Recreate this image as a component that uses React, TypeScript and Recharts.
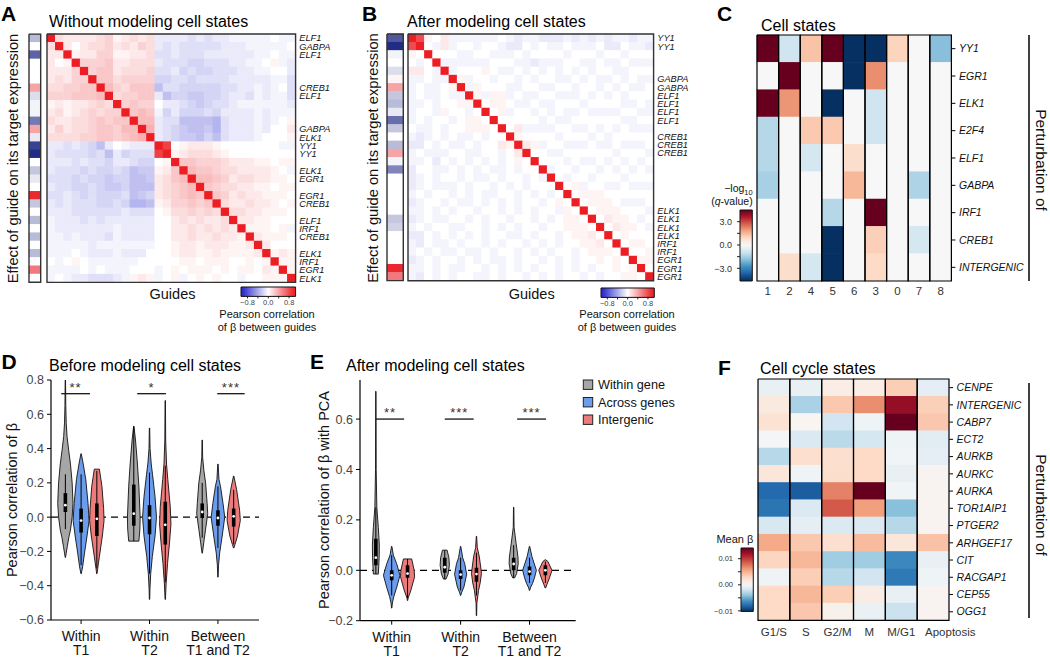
import React from 'react';
import {
  ScatterChart,
  Scatter,
  XAxis,
  YAxis,
  ReferenceLine,
} from 'recharts';

const FONT = '"Liberation Sans", Arial, Helvetica, sans-serif';

// guide x guide correlation of beta, lower triangle, one char per cell
// '.' = 0, 'A'..'T' = +0.05..+1.00, 'a'..'t' = -0.05..-1.00, '|' only separates blocks
const corrBefore = [
  '',
  'C',
  'BB',
  'B.A',
  'BBBD',
  'BCBDD',
  'CCDDEE',
  'DDDEEEF',
  'ABABBCDC',
  'BCABCDCDD',
  'CBBCCDEDEE',
  'BDBCCDEEDFF',
  'CCCCDDEEDEFG',
  'bbcbcdfb.abbb',
  'bccccdcfbdccc|Q',
  'bbbcbccdbbcdd|.A',
  'bcccdcddcdfee|AB|E',
  'cccdcddeddffe|BC|EF',
  'bccddcdeedfff|BC|DEF',
  'ccbcdcdddcfed|BC|DEFE',
  'bcbcccddcdggf|AB|DDEDE',
  'bbbccccccbccc|.A|CCDCDC',
  'abbbcbcbbbbbb|..|BCBCBBC',
  'abbbbbbbabbbb|..|BBCBCBCB',
  'aababbbcabbbb|..|BBCBBCBBA',
  'aaaaabaaaaaaa|..|ABBABBBAAB',
  'aaa.abbbabbb.|..|ABBAABAAAAB',
  '.a.A.aaaaaa..|..|.AA.AAA..A.A',
  'aaaa.a.aaa...|a.|A.AAA.A.AA.BA',
  'a.abbcccbaABA|a.|Aa.A.A..a..AAA',
];
// effect of each guide on its own target (left strip)
const stripBefore = 'f.n...Hcaal|Hbqs|.eb.Se.f.f.f.L.';
const labelRowsBefore = [0, 1, 2, 6, 7, 11, 12, 13, 14, 16, 17, 19, 20, 22, 23, 24, 26, 27, 28, 29];
const labelNamesBefore = ['ELF1', 'GABPA', 'ELF1', 'CREB1', 'ELF1', 'GABPA', 'ELK1', 'YY1', 'YY1', 'ELK1',
  'EGR1', 'EGR1', 'CREB1', 'ELF1', 'IRF1', 'CREB1', 'ELK1', 'IRF1', 'EGR1', 'ELK1'];

const corrAfter = [
  '',
  'P',
  'A.',
  '.a.',
  'BB.a',
  'aa.aa',
  'a.aa.A',
  'a.aa.aa',
  'aa.a..AA',
  'a..aA..a.',
  'a.a..a.AA.',
  '.aa.a..AAA.',
  'aba.a.aa.a..',
  'bb.a.aa.a..BA',
  'a.aaa..aa..a.B',
  'aa.b.a.a.a.a.A.',
  'b..aa.a.a.aa.a..',
  'ba.a..a.aa.a..a.a',
  'ba.aaa.a..a.a.a...',
  'a.a..a.a.aa..a.a.a.',
  'ba..a.aa.a.a.a..a.A.',
  'aa.a.a..a..a.a.a..aA.',
  'ba.aa..a.a..a..a.a.AA.',
  'a.a..aa..a.a.a..a..AAA.',
  'bb.a.a.a.a..aa.a..a.AAB.',
  'ab.aa.a..a.a..a.a.a..AAB.',
  'a.a.aa.aa.a..a.a.a..a.AAA.',
  'ba.a..a.a.aa.a..a.a.a..A.A.',
  'aa.a.aa..a.a.a.a..a.a.a..A.A',
  'ab.a.a..aa.a..a.a.a..a.a..AA.',
];
const stripAfter = 'osa.cAHefbm|e.fHak|.....|ed|....|SL';
const labelRowsAfter = [0, 1, 5, 6, 7, 8, 9, 10, 12, 13, 14, 21, 22, 23, 24, 25, 26, 27, 28, 29];
const labelNamesAfter = ['YY1', 'YY1', 'GABPA', 'GABPA', 'ELF1', 'ELF1', 'ELF1', 'ELF1', 'CREB1', 'CREB1',
  'CREB1', 'ELK1', 'ELK1', 'ELK1', 'ELK1', 'IRF1', 'IRF1', 'EGR1', 'EGR1', 'EGR1'];

// C: signed -log10(q) per cell state
const stateCols = ['1', '2', '4', '5', '6', '3', '0', '7', '8'];
const stateGenes = ['YY1', 'EGR1', 'ELK1', 'E2F4', 'ELF1', 'GABPA', 'IRF1', 'CREB1', 'INTERGENIC'];
const stateQ = [
  [5, -0.9, 1.3, 5, -5, -5, 1.0, 0, -1.9],
  [0, 5, 0, 0, -5, 2.1, 0, 0, 0],
  [5, 2.0, 0, -5, 0, -0.9, 0, 0, 0],
  [-1.3, 0, 1.2, 1.2, 0, -0.9, 0, 0, 0],
  [-1.3, 0, -0.8, 0, 0.8, 0, 0, 0, 0],
  [-1.5, 0, 0, 0, 1.5, 0, 0, -1.4, 0],
  [0, 0, 0, -1.3, 0, 5, 0, 0, 0],
  [0, 0, 0, -5, 0, 1.1, 0, -0.8, 0],
  [0, 0.8, -0.8, -5, 0, 0.9, 0, 0, 0],
];

// D / E violins
const groupLabels = [['Within', 'T1'], ['Within', 'T2'], ['Between', 'T1 and T2']];
const kindNames = ['Within gene', 'Across genes', 'Intergenic'];
// outline from top to bottom: [correlation, relative half width]
const beforeShapes = [
  [[0.8, 0.02], [0.65, 0.05], [0.55, 0.1], [0.47, 0.2], [0.39, 0.39], [0.31, 0.6], [0.2, 0.8], [0.08, 0.9], [0, 0.8], [-0.075, 0.6], [-0.12, 0.4], [-0.17, 0.23], [-0.21, 0.1], [-0.235, 0.02]],
  [[0.37, 0.02], [0.31, 0.25], [0.22, 0.55], [0.08, 0.82], [-0.02, 0.94], [-0.11, 0.7], [-0.21, 0.4], [-0.29, 0.18], [-0.33, 0.02]],
  [[0.28, 0], [0.28, 0.3], [0.18, 0.6], [0.05, 0.8], [-0.02, 0.85], [-0.11, 0.65], [-0.23, 0.3], [-0.3, 0.1], [-0.33, 0.02]],
  [[0.53, 0.02], [0.45, 0.2], [0.31, 0.43], [0.18, 0.6], [0, 0.75], [-0.07, 0.72], [-0.14, 0.6], [-0.14, 0]],
  [[0.52, 0.02], [0.4, 0.06], [0.31, 0.2], [0.25, 0.35], [0.12, 0.65], [0, 0.82], [-0.11, 0.65], [-0.23, 0.33], [-0.33, 0.14], [-0.42, 0.05], [-0.48, 0.02]],
  [[0.68, 0.02], [0.45, 0.05], [0.31, 0.15], [0.22, 0.3], [0.06, 0.59], [-0.04, 0.67], [-0.15, 0.5], [-0.27, 0.27], [-0.39, 0.1], [-0.48, 0.02]],
  [[0.45, 0.02], [0.35, 0.05], [0.27, 0.2], [0.2, 0.4], [0.08, 0.58], [0.02, 0.65], [-0.07, 0.4], [-0.15, 0.18], [-0.21, 0.02]],
  [[0.31, 0.02], [0.22, 0.12], [0.18, 0.3], [0.08, 0.6], [0, 0.8], [-0.11, 0.5], [-0.21, 0.2], [-0.28, 0.07], [-0.35, 0.02]],
  [[0.24, 0.02], [0.16, 0.35], [0.04, 0.7], [-0.02, 0.78], [-0.11, 0.45], [-0.16, 0.15], [-0.18, 0.02]],
];
// [whisker low, q1, median, q3, whisker high]
const beforeBoxes = [
  [-0.07, 0.03, 0.07, 0.14, 0.25],
  [-0.28, -0.09, -0.02, 0.05, 0.25],
  [-0.3, -0.11, -0.01, 0.08, 0.27],
  [-0.14, -0.05, 0.02, 0.19, 0.53],
  [-0.33, -0.1, -0.005, 0.07, 0.26],
  [-0.38, -0.16, -0.045, 0.09, 0.3],
  [-0.12, -0.005, 0.03, 0.08, 0.2],
  [-0.18, -0.05, -0.005, 0.04, 0.18],
  [-0.16, -0.055, 0.005, 0.05, 0.16],
];
const beforeSig: [string, number, number][] = [['**', 0.71, 1.13], ['*', 1.82, 2.24], ['***', 2.99, 3.39]];

const afterShapes = [
  [[0.71, 0.02], [0.4, 0.04], [0.25, 0.12], [0.17, 0.3], [0.1, 0.42], [0.05, 0.4], [-0.015, 0.3], [-0.015, 0]],
  [[0.095, 0.02], [0.06, 0.2], [0.026, 0.6], [-0.02, 1.0], [-0.066, 0.62], [-0.105, 0.25], [-0.13, 0.08], [-0.15, 0.02]],
  [[0.045, 0], [0.045, 0.5], [0, 0.8], [-0.026, 0.85], [-0.08, 0.4], [-0.11, 0.07], [-0.12, 0.02]],
  [[0.08, 0], [0.08, 0.28], [0.05, 0.5], [0.02, 0.56], [-0.015, 0.4], [-0.035, 0.15], [-0.035, 0]],
  [[0.095, 0.02], [0.05, 0.25], [0.026, 0.5], [-0.016, 0.73], [-0.066, 0.4], [-0.09, 0.1], [-0.1, 0.02]],
  [[0.135, 0.02], [0.09, 0.1], [0.053, 0.35], [0, 0.56], [-0.013, 0.6], [-0.05, 0.45], [-0.08, 0.25], [-0.13, 0.05], [-0.18, 0.02]],
  [[0.25, 0.02], [0.17, 0.05], [0.105, 0.3], [0.053, 0.52], [0.026, 0.55], [-0.013, 0.35], [-0.03, 0.12], [-0.03, 0]],
  [[0.095, 0.02], [0.053, 0.3], [0, 0.83], [-0.03, 0.6], [-0.053, 0.35], [-0.07, 0.1], [-0.08, 0.02]],
  [[0.042, 0.02], [0.035, 0.3], [0, 0.8], [-0.03, 0.5], [-0.055, 0.2], [-0.07, 0.03]],
];
const afterBoxes = [
  [-0.015, 0.02, 0.05, 0.125, 0.25],
  [-0.1, -0.04, -0.02, 0.0, 0.06],
  [-0.11, -0.03, -0.013, 0.02, 0.045],
  [-0.035, -0.01, 0.012, 0.05, 0.08],
  [-0.08, -0.035, -0.017, 0.0, 0.05],
  [-0.1, -0.045, -0.015, 0.01, 0.07],
  [-0.03, 0.0, 0.025, 0.05, 0.1],
  [-0.05, -0.02, -0.005, 0.015, 0.05],
  [-0.05, -0.02, 0.0, 0.02, 0.035],
];
const afterSig: [string, number, number][] = [['**', 0.77, 1.18], ['***', 1.77, 2.19], ['***', 2.82, 3.24]];

// F: mean beta per cell cycle state
const cyclePhases = ['G1/S', 'S', 'G2/M', 'M', 'M/G1', 'Apoptosis'];
const cycleGenes = ['CENPE', 'INTERGENIC', 'CABP7', 'ECT2', 'AURKB', 'AURKC', 'AURKA', 'TOR1AIP1',
  'PTGER2', 'ARHGEF17', 'CIT', 'RACGAP1', 'CEP55', 'OGG1'];
const cycleBeta = [
  [-0.0008, -0.0008, 0.0010, 0.0010, 0.0035, -0.0010],
  [0.0014, -0.0033, 0.0038, 0.0066, 0.0124, 0.0034],
  [0.0021, 0.0003, -0.0020, -0.0005, 0.0150, 0.0039],
  [-0.0002, -0.0015, -0.0028, -0.0018, -0.0005, -0.0012],
  [-0.0029, 0.0024, 0.0024, 0.0028, -0.0003, -0.0010],
  [0.0017, -0.0005, 0.0025, 0.0028, -0.0008, 0.0004],
  [-0.0080, -0.0085, 0.0071, 0.0160, -0.0003, 0.0004],
  [-0.0075, -0.0015, 0.0087, 0.0059, -0.0043, 0.0004],
  [-0.0017, -0.0010, -0.0015, -0.0015, -0.0029, 0.0004],
  [0.0054, 0.0038, 0.0024, 0.0045, 0.0017, 0.0042],
  [0.0031, 0.0047, -0.0036, -0.0036, -0.0066, -0.0008],
  [-0.0004, 0.0035, -0.0029, -0.0020, -0.0073, -0.0005],
  [0.0028, 0.0047, 0.0035, 0.0011, -0.0008, 0.0004],
  [0.0028, 0.0039, 0.0007, -0.0007, -0.0022, 0.0004],
];

const KIND_COLORS = ['#a6a6a6', '#6c9ded', '#ee7b7b'];
const KIND_OFFSET = 0.23;

// ---- colours ----
const WHITE = [255, 255, 255];
function mix(a: number[], b: number[], t: number) {
  const k = Math.max(0, Math.min(1, t));
  const c = (i: number) => Math.round(a[i] + (b[i] - a[i]) * k);
  return `rgb(${c(0)},${c(1)},${c(2)})`;
}
const corrColor = (v: number) => (v >= 0 ? mix(WHITE, [236, 30, 36], v) : mix(WHITE, [40, 40, 205], -v));
const stripColor = (v: number) => (v >= 0 ? mix(WHITE, [232, 30, 36], v) : mix(WHITE, [22, 32, 128], -v));
const RDBU = ['#67001f', '#b2182b', '#d6604d', '#f4a582', '#fddbc7', '#f7f7f7', '#d1e5f0', '#92c5de', '#4393c3', '#2166ac', '#053061']
  .map((h) => [parseInt(h.slice(1, 3), 16), parseInt(h.slice(3, 5), 16), parseInt(h.slice(5, 7), 16)]);
function rdbu(t: number) {
  const u = ((1 - Math.max(-1, Math.min(1, t))) / 2) * 10;
  const i = Math.min(9, Math.floor(u));
  return mix(RDBU[i], RDBU[i + 1], u - i);
}
const qColor = (v: number) => rdbu(v / 4.5);
const betaColor = (v: number) => rdbu(v >= 0 ? v / 0.0141 : v / 0.0102);

// ---- data helpers ----
type Cell = { x: number; y: number; v: number };
function level(ch: string | undefined) {
  if (!ch || ch === '.') return 0;
  const c = ch.charCodeAt(0);
  if (c >= 65 && c <= 90) return (c - 64) * 0.05;
  if (c >= 97 && c <= 122) return -(c - 96) * 0.05;
  return 0;
}
const clean = (s: string) => s.replace(/\|/g, '');
function corrCells(tri: string[]): Cell[] {
  const rows = tri.map(clean);
  const out: Cell[] = [];
  for (let i = 0; i < rows.length; i++) {
    for (let j = 0; j < rows.length; j++) {
      const v = i === j ? 1 : i > j ? level(rows[i][j]) : level(rows[j][i]);
      out.push({ x: j, y: i, v });
    }
  }
  return out;
}
const stripCells = (s: string): Cell[] => clean(s).split('').map((ch, i) => ({ x: 0, y: i, v: level(ch) }));
const gridCells = (m: number[][]): Cell[] => m.flatMap((row, r) => row.map((v, c) => ({ x: c, y: r, v })));

const fmt1 = (v: number) => (v < -1e-9 ? '\u2212' : '') + Math.abs(v).toFixed(1);
const fmt2 = (v: number) => (v < -1e-9 ? '\u2212' : '') + Math.abs(v).toFixed(2);

// closed rectangle in data coordinates, drawn as a scatter line
const rectPath = (x0: number, x1: number, y0: number, y1: number) => [
  { x: x0, y: y0 }, { x: x1, y: y0 }, { x: x1, y: y1 }, { x: x0, y: y1 }, { x: x0, y: y0 },
];
const noDot = () => <g />;

// ---- heatmap ----
function Heatmap(p: {
  left: number; top: number; w: number; h: number; nx: number; ny: number;
  cells: Cell[]; color: (v: number) => string;
  rowTicks?: number[]; rowNames?: string[]; labelW?: number; labelSize?: number; marks?: boolean;
  colNames?: string[]; colSize?: number; colGap?: number; colTick?: (t: any) => any;
  columnsFramed?: boolean; frame?: string; frameW?: number;
}) {
  const pad = 6;
  const side = 2;
  const labelW = p.rowNames ? p.labelW ?? 60 : 0;
  const xh = p.colNames ? 24 : 0;
  const cw = p.w / p.nx;
  const ch = p.h / p.ny;
  const frames = p.columnsFramed
    ? Array.from({ length: p.nx }, (_, i) => rectPath(i - 0.5, i + 0.5, -0.5, p.ny - 0.5))
    : [rectPath(-0.5, p.nx - 0.5, -0.5, p.ny - 0.5)];
  return (
    <div style={{ position: 'absolute', left: p.left - side, top: p.top - pad }}>
      <ScatterChart
        width={side + p.w + labelW + side}
        height={pad + p.h + (xh || pad)}
        margin={{ top: pad, right: side, bottom: xh ? 0 : pad, left: side }}
      >
        <XAxis
          type="number" dataKey="x" domain={[-0.5, p.nx - 0.5]} hide={!p.colNames}
          ticks={p.colNames ? p.colNames.map((_, i) => i) : undefined}
          tickFormatter={(v: number) => (p.colNames ? p.colNames[v] ?? '' : '')}
          interval={0} height={xh} axisLine={false} tickLine={false} tickSize={0}
          tickMargin={p.colGap ?? 6}
          tick={p.colTick ? p.colTick : { fontSize: p.colSize ?? 11.5, fill: '#333' }}
        />
        <YAxis
          type="number" dataKey="y" domain={[-0.5, p.ny - 0.5]} reversed
          orientation="right" hide={!p.rowNames} width={labelW} ticks={p.rowTicks} interval={0}
          tickFormatter={(v: number) => (p.rowNames && p.rowTicks ? p.rowNames[p.rowTicks.indexOf(v)] ?? '' : '')}
          axisLine={false} tickLine={p.marks ? { stroke: '#000' } : false}
          tickSize={p.marks ? 4 : 0} tickMargin={p.marks ? 3.6 : 3.7}
          tick={{ fontSize: p.labelSize ?? 9.2, fontStyle: 'italic', fill: '#111' }}
        />
        <Scatter
          data={p.cells}
          isAnimationActive={false}
          shape={(s: any) => (
            <rect
              x={s.cx - cw / 2 - 0.25} y={s.cy - ch / 2 - 0.25}
              width={cw + 0.5} height={ch + 0.5}
              fill={p.color(s.payload ? s.payload.v : s.v)}
            />
          )}
        />
        {frames.map((pts, i) => (
          <Scatter
            key={i} data={pts} isAnimationActive={false} lineType="joint" shape={noDot}
            line={{ stroke: p.frame ?? '#333', strokeWidth: p.frameW ?? 1.4, fill: 'none' }}
          />
        ))}
      </ScatterChart>
    </div>
  );
}

// ---- colour bars ----
function HColorBar(p: {
  left: number; top: number; w: number; h: number; id: string;
  domain: [number, number]; ticks: number[]; shown: number[];
}) {
  return (
    <div style={{ position: 'absolute', left: p.left - 8, top: p.top - 1 }}>
      <ScatterChart width={p.w + 16} height={p.h + 15} margin={{ top: 1, right: 8, bottom: 0, left: 8 }}>
        <XAxis
          type="number" dataKey="x" domain={p.domain} ticks={p.ticks} interval={0}
          height={14} tickSize={2} tickMargin={1} axisLine={false} tickLine={{ stroke: '#222' }}
          tick={{ fontSize: 7.5, fill: '#444' }}
          tickFormatter={(v: number) => (p.shown.includes(v) ? fmt1(v) : '')}
        />
        <YAxis type="number" dataKey="y" domain={[0, 1]} hide />
        <Scatter
          data={rectPath(p.domain[0], p.domain[1], 0, 1)} isAnimationActive={false} lineType="joint" shape={noDot}
          line={{ stroke: '#111', strokeWidth: 1, fill: `url(#${p.id})` }}
        />
      </ScatterChart>
    </div>
  );
}

function VColorBar(p: {
  left: number; top: number; w: number; h: number; id: string; labelW: number; fontSize: number;
  domain: [number, number]; ticks: number[]; shown: number[]; fmt: (v: number) => string;
}) {
  return (
    <div style={{ position: 'absolute', left: p.left - p.labelW, top: p.top - 5 }}>
      <ScatterChart width={p.labelW + p.w + 2} height={p.h + 10} margin={{ top: 5, right: 2, bottom: 5, left: 0 }}>
        <XAxis type="number" dataKey="x" domain={[0, 1]} hide />
        <YAxis
          type="number" dataKey="y" domain={p.domain} ticks={p.ticks} interval={0}
          width={p.labelW} tickSize={3} tickMargin={5} axisLine={false} tickLine={{ stroke: '#222' }}
          tick={{ fontSize: p.fontSize, fill: '#333' }}
          tickFormatter={(v: number) => (p.shown.includes(v) ? p.fmt(v) : '')}
        />
        <Scatter
          data={rectPath(0, 1, p.domain[0], p.domain[1])} isAnimationActive={false} lineType="joint" shape={noDot}
          line={{ stroke: '#111', strokeWidth: 1, fill: `url(#${p.id})` }}
        />
      </ScatterChart>
    </div>
  );
}

function Gradient({ id, vertical, domain, color }: { id: string; vertical?: boolean; domain: [number, number]; color: (v: number) => string }) {
  const stops = Array.from({ length: 21 }, (_, i) => i / 20);
  return (
    <linearGradient id={id} x1="0" y1="0" x2={vertical ? '0' : '1'} y2={vertical ? '1' : '0'}>
      {stops.map((f) => (
        <stop
          key={f} offset={f}
          stopColor={color(vertical ? domain[1] - (domain[1] - domain[0]) * f : domain[0] + (domain[1] - domain[0]) * f)}
        />
      ))}
    </linearGradient>
  );
}

// ---- violins ----
function GroupTick(props: any) {
  const { x, y, payload } = props;
  const lines = groupLabels[Math.round(payload.value) - 1] || [];
  return (
    <text x={x} y={y} textAnchor="middle" fontSize={14} fill="#111">
      {lines.map((s, i) => (
        <tspan key={i} x={x} dy={i === 0 ? 14.8 : 14.6}>{s}</tspan>
      ))}
    </text>
  );
}

function ViolinPanel(p: {
  left: number; top: number; width: number; height: number;
  mTop: number; mRight: number; yAxisW: number; xAxisH: number;
  xDomain: [number, number]; yDomain: [number, number]; yTicks: number[];
  shapes: number[][][]; boxes: number[][]; sig: [string, number, number][]; sigY: number; halfW: number;
}) {
  const center = (k: number) => Math.floor(k / 3) + 1 + ((k % 3) - 1) * KIND_OFFSET;
  const outlines = p.shapes.map((prof, k) => {
    const c = center(k);
    const right = prof.map(([y, w]) => ({ x: c + w * p.halfW, y }));
    const left = prof.slice().reverse().map(([y, w]) => ({ x: c - w * p.halfW, y }));
    return [...right, ...left, right[0]];
  });
  const medians = p.boxes.map(([, , med], k) => ({ x: center(k), y: med }));
  const stars = p.sig.map(([label, a, b]) => ({ x: (a + b) / 2, y: p.sigY, label }));
  return (
    <div style={{ position: 'absolute', left: p.left, top: p.top }}>
      <ScatterChart
        width={p.width} height={p.height}
        margin={{ top: p.mTop, right: p.mRight, bottom: 0, left: 0 }}
      >
        <XAxis
          type="number" dataKey="x" domain={p.xDomain} allowDataOverflow ticks={[1, 2, 3]} interval={0}
          height={p.xAxisH} tickSize={4} tickMargin={2}
          axisLine={{ stroke: '#000', strokeWidth: 1.2 }} tickLine={{ stroke: '#000' }}
          tick={(t: any) => <GroupTick {...t} />}
        />
        <YAxis
          type="number" dataKey="y" domain={p.yDomain} allowDataOverflow ticks={p.yTicks} interval={0}
          width={p.yAxisW} tickSize={4} tickMargin={3}
          axisLine={{ stroke: '#000', strokeWidth: 1.2 }} tickLine={{ stroke: '#000' }}
          tick={{ fontSize: 12.5, fill: '#444' }} tickFormatter={fmt1}
        />
        <ReferenceLine y={0} stroke="#000" strokeWidth={1.2} strokeDasharray="7 5" />
        {outlines.map((pts, k) => (
          <Scatter
            key={'v' + k} data={pts} isAnimationActive={false} lineType="joint" shape={noDot}
            line={{ stroke: '#111', strokeWidth: 0.9, fill: KIND_COLORS[k % 3] }}
          />
        ))}
        {p.boxes.map(([lo, , , , hi], k) => (
          <Scatter
            key={'w' + k} data={[{ x: center(k), y: lo }, { x: center(k), y: hi }]}
            isAnimationActive={false} lineType="joint" shape={noDot}
            line={{ stroke: '#000', strokeWidth: 1 }}
          />
        ))}
        {p.boxes.map(([, q1, , q3], k) => (
          <Scatter
            key={'b' + k} data={[{ x: center(k), y: q1 }, { x: center(k), y: q3 }]}
            isAnimationActive={false} lineType="joint" shape={noDot}
            line={{ stroke: '#000', strokeWidth: 3.6 }}
          />
        ))}
        <Scatter
          data={medians} isAnimationActive={false}
          shape={(s: any) => <circle cx={s.cx} cy={s.cy} r={1.4} fill="#fff" />}
        />
        {p.sig.map(([, a, b], i) => (
          <ReferenceLine
            key={'s' + i} segment={[{ x: a, y: p.sigY }, { x: b, y: p.sigY }]}
            stroke="#000" strokeWidth={1.2}
          />
        ))}
        <Scatter
          data={stars} isAnimationActive={false}
          shape={(s: any) => (
            <text x={s.cx} y={s.cy - 2} textAnchor="middle" fontSize={13} letterSpacing={1} fill="#333">
              {s.payload ? s.payload.label : s.label}
            </text>
          )}
        />
      </ScatterChart>
    </div>
  );
}

// F column labels: the long last label is shifted so it clears its neighbour
function PhaseTick(props: any) {
  const { x, y, payload } = props;
  const last = payload.value === cyclePhases.length - 1;
  return (
    <text x={last ? x - 8 : x} y={y} dy="0.71em" textAnchor={last ? 'start' : 'middle'} fontSize={11.5} fill="#333">
      {cyclePhases[payload.value]}
    </text>
  );
}

export default function App() {
  const letters: [string, number, number][] = [
    ['A', 1, 21], ['B', 362, 21], ['C', 717, 21], ['D', 1.5, 368.5], ['E', 310, 368.5], ['F', 718, 375],
  ];
  const titles: [string, number, number][] = [
    ['Without modeling cell states', 49, 27], ['After modeling cell states', 407, 27],
    ['Cell states', 761, 30.5], ['Before modeling cell states', 49, 370.5],
    ['After modeling cell states', 346, 370.5], ['Cell cycle states', 760, 373.5],
  ];
  return (
    <div style={{ position: 'absolute', left: 0, top: 0, width: 1050, height: 658, background: '#fff', fontFamily: FONT, overflow: 'hidden' }}>
      <svg width={0} height={0} style={{ position: 'absolute' }}>
        <defs>
          <Gradient id="gradAB" domain={[-1.05, 1.05]} color={corrColor} />
          <Gradient id="gradC" vertical domain={[-4.63, 4.5]} color={qColor} />
          <Gradient id="gradF" vertical domain={[-0.0102, 0.0141]} color={betaColor} />
        </defs>
      </svg>

      {/* A */}
      <Heatmap left={29.3} top={34.3} w={11.7} h={248.4} nx={1} ny={30} cells={stripCells(stripBefore)} color={stripColor} />
      <Heatmap
        left={46.7} top={34.3} w={248.6} h={248.4} nx={30} ny={30} cells={corrCells(corrBefore)} color={corrColor}
        rowTicks={labelRowsBefore} rowNames={labelNamesBefore} labelW={48}
      />
      <HColorBar left={240.7} top={287.3} w={54.6} h={9.4} id="gradAB" domain={[-1.05, 1.05]} ticks={[-0.8, -0.4, 0, 0.4, 0.8]} shown={[-0.8, 0, 0.8]} />

      {/* B */}
      <Heatmap left={386.7} top={34.3} w={16.3} h={246.7} nx={1} ny={30} cells={stripCells(stripAfter)} color={stripColor} />
      <Heatmap
        left={407.7} top={34.3} w={245.6} h={246.7} nx={30} ny={30} cells={corrCells(corrAfter)} color={corrColor}
        rowTicks={labelRowsAfter} rowNames={labelNamesAfter} labelW={48}
      />
      <HColorBar left={600.7} top={288} w={53.3} h={9.4} id="gradAB" domain={[-1.05, 1.05]} ticks={[-0.8, -0.4, 0, 0.4, 0.8]} shown={[-0.8, 0, 0.8]} />

      {/* C */}
      <Heatmap
        left={757.3} top={35} w={194.4} h={246} nx={9} ny={9} cells={gridCells(stateQ)} color={qColor}
        rowTicks={stateGenes.map((_, i) => i)} rowNames={stateGenes} labelW={72} labelSize={10.5} marks
        colNames={stateCols} colSize={11.5} colGap={5.8} columnsFramed frame="#000" frameW={1.2}
      />
      <VColorBar left={740} top={210} w={12.3} h={71} id="gradC" labelW={28} fontSize={9}
        domain={[-4.63, 4.5]} ticks={[-3, -1.5, 0, 1.5, 3]} shown={[-3, 0, 3]} fmt={fmt1} />

      {/* D */}
      <ViolinPanel
        left={0} top={370} width={270} height={288} mTop={10} mRight={11} yAxisW={51} xAxisH={38}
        xDomain={[0.56, 3.6]} yDomain={[-0.6, 0.8]} yTicks={[-0.6, -0.4, -0.2, 0, 0.2, 0.4, 0.6, 0.8]}
        shapes={beforeShapes} boxes={beforeBoxes} sig={beforeSig} sigY={0.72} halfW={0.124}
      />

      {/* E */}
      <ViolinPanel
        left={310} top={370} width={276} height={288} mTop={10} mRight={10.3} yAxisW={50} xAxisH={37.3}
        xDomain={[0.54, 3.67]} yDomain={[-0.2, 0.755]} yTicks={[-0.2, 0, 0.2, 0.4, 0.6]}
        shapes={afterShapes} boxes={afterBoxes} sig={afterSig} sigY={0.6} halfW={0.12}
      />

      {/* F */}
      <Heatmap
        left={758.3} top={379.3} w={191} h={241.4} nx={6} ny={14} cells={gridCells(cycleBeta)} color={betaColor}
        rowTicks={cycleGenes.map((_, i) => i)} rowNames={cycleGenes} labelW={72} labelSize={10.5} marks
        colNames={cyclePhases} colGap={7.1} colTick={(t: any) => <PhaseTick {...t} />}
        columnsFramed frame="#000" frameW={1.2}
      />
      <VColorBar left={741} top={548.3} w={12.3} h={63.4} id="gradF" labelW={28} fontSize={7.5}
        domain={[-0.0102, 0.0141]} ticks={[-0.01, -0.005, 0, 0.005, 0.01]} shown={[-0.01, 0, 0.01]} fmt={fmt2} />

      <svg width={1050} height={658} style={{ position: 'absolute', left: 0, top: 0, pointerEvents: 'none' }} fontFamily={FONT}>
        {letters.map(([t, x, y]) => (
          <text key={t} x={x} y={y} fontSize={21} fontWeight="bold" fill="#000">{t}</text>
        ))}
        {titles.map(([t, x, y], i) => (
          <text key={i} x={x} y={y} fontSize={16} fill="#000">{t}</text>
        ))}
        <text transform="translate(18,158.5) rotate(-90)" textAnchor="middle" fontSize={14.7} fill="#111">Effect of guide on its target expression</text>
        <text transform="translate(377.5,158) rotate(-90)" textAnchor="middle" fontSize={14.7} fill="#111">Effect of guide on its target expression</text>
        <text x={172.5} y={299} textAnchor="middle" fontSize={14.5} fill="#111">Guides</text>
        <text x={531.7} y={299} textAnchor="middle" fontSize={14.5} fill="#111">Guides</text>
        <text x={267} y={318} textAnchor="middle" fontSize={11} fill="#111">Pearson correlation</text>
        <text x={267} y={330.5} textAnchor="middle" fontSize={11} fill="#111">of β between guides</text>
        <text x={627} y={318} textAnchor="middle" fontSize={11} fill="#111">Pearson correlation</text>
        <text x={627} y={330.5} textAnchor="middle" fontSize={11} fill="#111">of β between guides</text>

        <text x={752.7} y={192} textAnchor="end" fontSize={10.5} fill="#111">
          −log<tspan fontSize={7.5} dy={2.5}>10</tspan>
        </text>
        <text x={752.7} y={205} textAnchor="end" fontSize={10.5} fill="#111">
          (<tspan fontStyle="italic">q</tspan>-value)
        </text>
        <text x={753.3} y={543} textAnchor="end" fontSize={11} fill="#111">Mean β</text>

        <line x1={1029} y1={35} x2={1029} y2={281} stroke="#000" strokeWidth={1.5} />
        <line x1={1029} y1={383} x2={1029} y2={618} stroke="#000" strokeWidth={1.5} />
        <text transform="translate(1035.5,160) rotate(90)" textAnchor="middle" fontSize={15.5} fill="#111">Perturbation of</text>
        <text transform="translate(1035.5,505) rotate(90)" textAnchor="middle" fontSize={15.5} fill="#111">Perturbation of</text>

        <text transform="translate(17,500) rotate(-90)" textAnchor="middle" fontSize={14.5} fill="#111">Pearson correlation of β</text>
        <text transform="translate(328.5,500) rotate(-90)" textAnchor="middle" fontSize={14.5} fill="#111">Pearson correlation of β with PCA</text>

        {kindNames.map((name, i) => (
          <g key={name}>
            <rect x={583.3} y={380 + i * 17.5} width={9.4} height={9.4} fill={KIND_COLORS[i]} stroke="#222" strokeWidth={1} />
            <text x={598} y={389.3 + i * 17.5} fontSize={12.7} fill="#111">{name}</text>
          </g>
        ))}
      </svg>
    </div>
  );
}
